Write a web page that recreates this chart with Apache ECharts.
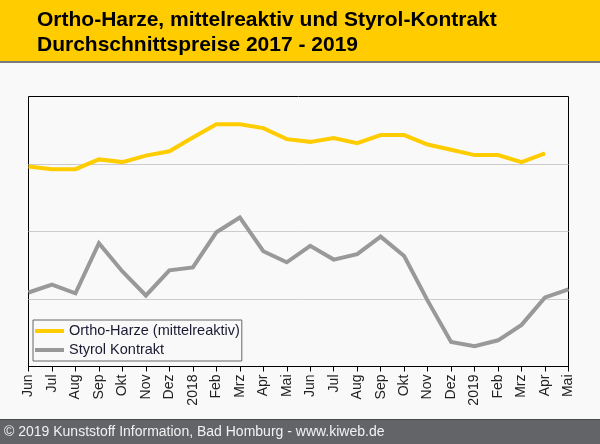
<!DOCTYPE html>
<html>
<head>
<meta charset="utf-8">
<script src="https://cdn.jsdelivr.net/npm/echarts@6/dist/echarts.min.js"></script>
<style>
html, body { margin: 0; padding: 0; background: #f9f9f9; }
#chart { width: 600px; height: 444px; }
</style>
</head>
<body>
<div id="chart"></div>
<script>
// Monate Jun 2017 - Mai 2019
var months = ['Jun', 'Jul', 'Aug', 'Sep', 'Okt', 'Nov', 'Dez', '2018', 'Feb', 'Mrz', 'Apr', 'Mai',
              'Jun', 'Jul', 'Aug', 'Sep', 'Okt', 'Nov', 'Dez', '2019', 'Feb', 'Mrz', 'Apr', 'Mai'];

// Indexwerte, aus dem Bild geschaetzt (keine Achsenbeschriftung)
var orthoHarze = [74.1, 73.1, 73.1, 76.7, 75.7, 78.1, 79.7, 84.8, 89.7, 89.7, 88.3, 84.2,
                  83.2, 84.6, 82.7, 85.7, 85.7, 82.2, 80.3, 78.3, 78.3, 75.7, 78.9, null];
var styrol = [27.4, 30.3, 27.1, 45.7, 35.2, 26.3, 35.6, 36.7, 49.7, 55.2, 42.7, 38.6,
              44.7, 39.6, 41.6, 48.1, 40.9, 24.4, 9.1, 7.5, 9.7, 15.4, 25.6, 28.6];

var fontFam = '"Liberation Sans", Arial, sans-serif';

var chart = echarts.init(document.getElementById('chart'));

var option = {
    backgroundColor: '#f9f9f9',
    animation: false,
    graphic: [
        // Kopfzeile
        { type: 'rect', shape: { x: 0, y: 0, width: 600, height: 61 }, style: { fill: '#ffcc00' }, z: 0 },
        { type: 'rect', shape: { x: 0, y: 61, width: 600, height: 2 }, style: { fill: '#7a7a7a' }, z: 0 },
        // Fusszeile
        { type: 'rect', shape: { x: 0, y: 419, width: 600, height: 25 }, style: { fill: '#636468' }, z: 0 },
        { type: 'rect', shape: { x: 0, y: 419, width: 600, height: 1 }, style: { fill: '#4a4a4c' }, z: 0 },
        {
            type: 'text', x: 4, y: 432, z: 10,
            style: {
                text: '\u00a9 2019 Kunststoff Information, Bad Homburg - www.kiweb.de',
                fill: '#f2f2f2', font: '14px ' + fontFam, verticalAlign: 'middle'
            }
        }
    ],
    title: {
        text: 'Ortho-Harze, mittelreaktiv und Styrol-Kontrakt\nDurchschnittspreise 2017 - 2019',
        left: 37,
        top: 8,
        padding: 0,
        textStyle: {
            fontFamily: fontFam,
            fontSize: 21,
            fontWeight: 'bold',
            color: '#000',
            lineHeight: 25
        }
    },
    legend: {
        orient: 'vertical',
        left: 33,
        top: 320,
        icon: 'rect',
        itemWidth: 29,
        itemHeight: 4,
        itemGap: 3,
        padding: [3, 2, 3, 2],
        borderColor: '#666',
        borderWidth: 1,
        backgroundColor: '#f9f9f9',
        textStyle: { fontFamily: fontFam, fontSize: 14.5, color: '#1a1a33', lineHeight: 16 },
        data: ['Ortho-Harze (mittelreaktiv)', 'Styrol Kontrakt']
    },
    grid: {
        left: 28.5,
        right: 31.5,
        top: 96.5,
        bottom: 77.5,
        show: true,
        borderColor: '#000',
        borderWidth: 1,
        backgroundColor: '#f9f9f9'
    },
    xAxis: {
        type: 'category',
        boundaryGap: false,
        data: months,
        axisLine: { show: true, lineStyle: { color: '#000', width: 1 } },
        axisTick: { show: true, length: 5, interval: 0, lineStyle: { color: '#000' } },
        axisLabel: {
            interval: 0,
            rotate: 90,
            margin: 8,
            fontFamily: fontFam,
            fontSize: 14,
            color: '#222'
        },
        splitLine: { show: false }
    },
    yAxis: {
        type: 'value',
        min: 0,
        max: 100,
        interval: 25,
        axisLine: { show: false },
        axisTick: { show: false },
        axisLabel: { show: false },
        splitLine: {
            show: true,
            showMinLine: false,
            showMaxLine: false,
            lineStyle: { color: '#cccccc', width: 1 }
        }
    },
    series: [
        {
            name: 'Ortho-Harze (mittelreaktiv)',
            type: 'line',
            data: orthoHarze,
            showSymbol: false,
            color: '#ffcc00',
            lineStyle: { width: 4, color: '#ffcc00', join: 'miter' },
            z: 3
        },
        {
            name: 'Styrol Kontrakt',
            type: 'line',
            data: styrol,
            showSymbol: false,
            color: '#999999',
            lineStyle: { width: 4, color: '#999999', join: 'miter' },
            z: 2
        }
    ]
};

chart.setOption(option);
</script>
</body>
</html>
